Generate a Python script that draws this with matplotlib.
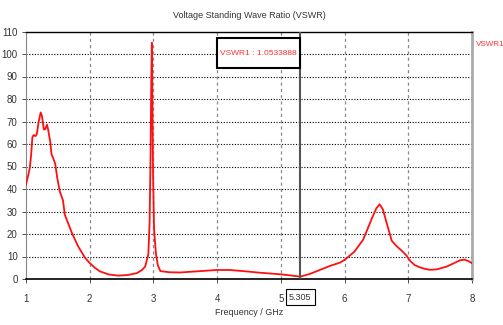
import matplotlib
matplotlib.use("Agg")
import matplotlib.pyplot as plt
from matplotlib.patches import Rectangle

plt.rcParams['font.family'] = ['Liberation Sans', 'DejaVu Sans']

freq = [1.00, 1.03, 1.06, 1.08, 1.10, 1.12, 1.15, 1.17, 1.20, 1.23, 1.25, 1.28,
        1.30, 1.33, 1.35, 1.38, 1.40, 1.43, 1.46, 1.49, 1.53, 1.58, 1.61, 1.66,
        1.72, 1.82, 1.93, 2.00, 2.08, 2.16, 2.30, 2.45, 2.60, 2.74, 2.82, 2.87,
        2.92, 2.94, 2.955, 2.965, 2.975, 2.985, 2.995, 3.01, 3.04, 3.07, 3.11,
        3.25, 3.42, 3.73, 3.99, 4.20, 4.45, 4.67, 4.99, 5.15, 5.305, 5.45,
        5.61, 5.77, 5.93, 6.00, 6.15, 6.29, 6.43, 6.50, 6.55, 6.60, 6.66, 6.74,
        6.82, 6.90, 6.97, 7.03, 7.10, 7.18, 7.26, 7.34, 7.45, 7.60, 7.70, 7.81,
        7.88, 7.95, 8.00]
vswr = [42.0, 45.5, 49.5, 55.0, 63.0, 64.0, 63.5, 64.5, 70.0, 74.0, 72.5, 66.5,
        66.5, 68.6, 66.0, 61.0, 55.5, 53.5, 51.0, 45.0, 38.9, 35.0, 28.5, 24.9,
        20.5, 14.4, 9.3, 7.1, 5.0, 3.4, 2.0, 1.5, 1.8, 2.6, 4.0, 5.5,
        11.0, 25.0, 55.0, 85.0, 105.0, 75.0, 45.0, 22.0, 11.0, 6.0, 3.5,
        3.0, 2.9, 3.5, 4.0, 4.0, 3.4, 2.8, 2.1, 1.6, 1.05, 2.2,
        4.0, 5.8, 7.3, 8.5, 12.0, 17.4, 27.0, 31.5, 33.2, 31.0, 25.0, 17.0,
        14.5, 12.5, 10.5, 8.0, 6.2, 5.2, 4.5, 4.1, 4.3, 5.5, 6.8, 8.3,
        8.6, 7.9, 7.0]

marker_freq = 5.305
marker_label = "VSWR1 : 1.0533888"
series_name = "VSWR1"
xticks = [1, 2, 3, 4, 5, 6, 7, 8]
yticks = list(range(0, 111, 10))

fig = plt.figure(figsize=(5.03, 3.25), dpi=100)
ax = fig.add_axes([26/503, 1-279/325, (472-26)/503, (279-31.5)/325])

ax.set_xlim(1, 8)
ax.set_ylim(0, 110)
ax.set_xticks(xticks)
ax.set_yticks(yticks)

txtcol = '#333333'
ax.tick_params(axis='both', labelsize=7, colors=txtcol, length=3, width=0.6)
ax.tick_params(axis='x', pad=8)
ax.tick_params(axis='y', pad=3)

for y in yticks[1:-1]:
    ax.axhline(y, color='black', lw=0.8, ls=(0, (1, 1.5)), zorder=1)
for x in xticks[1:-1]:
    ax.axvline(x, color='#888888', lw=0.9, ls=(0, (2.5, 2.5)), zorder=1)

ax.spines['top'].set_color('black')
ax.spines['top'].set_linewidth(1.0)
ax.spines['bottom'].set_color('black')
ax.spines['bottom'].set_linewidth(1.2)
ax.spines['left'].set_color('#888888')
ax.spines['left'].set_linewidth(0.8)
ax.spines['right'].set_color('#aaaaaa')
ax.spines['right'].set_linewidth(2.0)

ax.plot(freq, vswr, color='#ff1010', lw=1.3, zorder=3)

ax.axvline(marker_freq, color='#555555', lw=1.5, zorder=4)

ax.add_patch(Rectangle((3.998, 94.0), 1.302, 12.9, fc='white', ec='black',
                       lw=1.5, zorder=5))
ax.text(4.65, 100.2, marker_label, color='#ff3030', fontsize=6, ha='center',
        va='center', zorder=6)

ax.text(marker_freq, -0.073, f"{marker_freq:.3f}", transform=ax.get_xaxis_transform(),
        ha='center', va='center', fontsize=6.5, color=txtcol,
        bbox=dict(boxstyle='square,pad=0.35', fc='white', ec='black', lw=0.8))

ax.set_xlabel("Frequency / GHz", fontsize=6.5, color=txtcol, labelpad=3)
fig.text(249/503, 1-15/325, "Voltage Standing Wave Ratio (VSWR)", fontsize=6.5,
         color=txtcol, ha='center', va='center')
fig.text(476/503, 1-45/325, series_name, fontsize=5.8, color='#ff3030',
         ha='left', va='center')

fig.savefig("out.png", dpi=100)
